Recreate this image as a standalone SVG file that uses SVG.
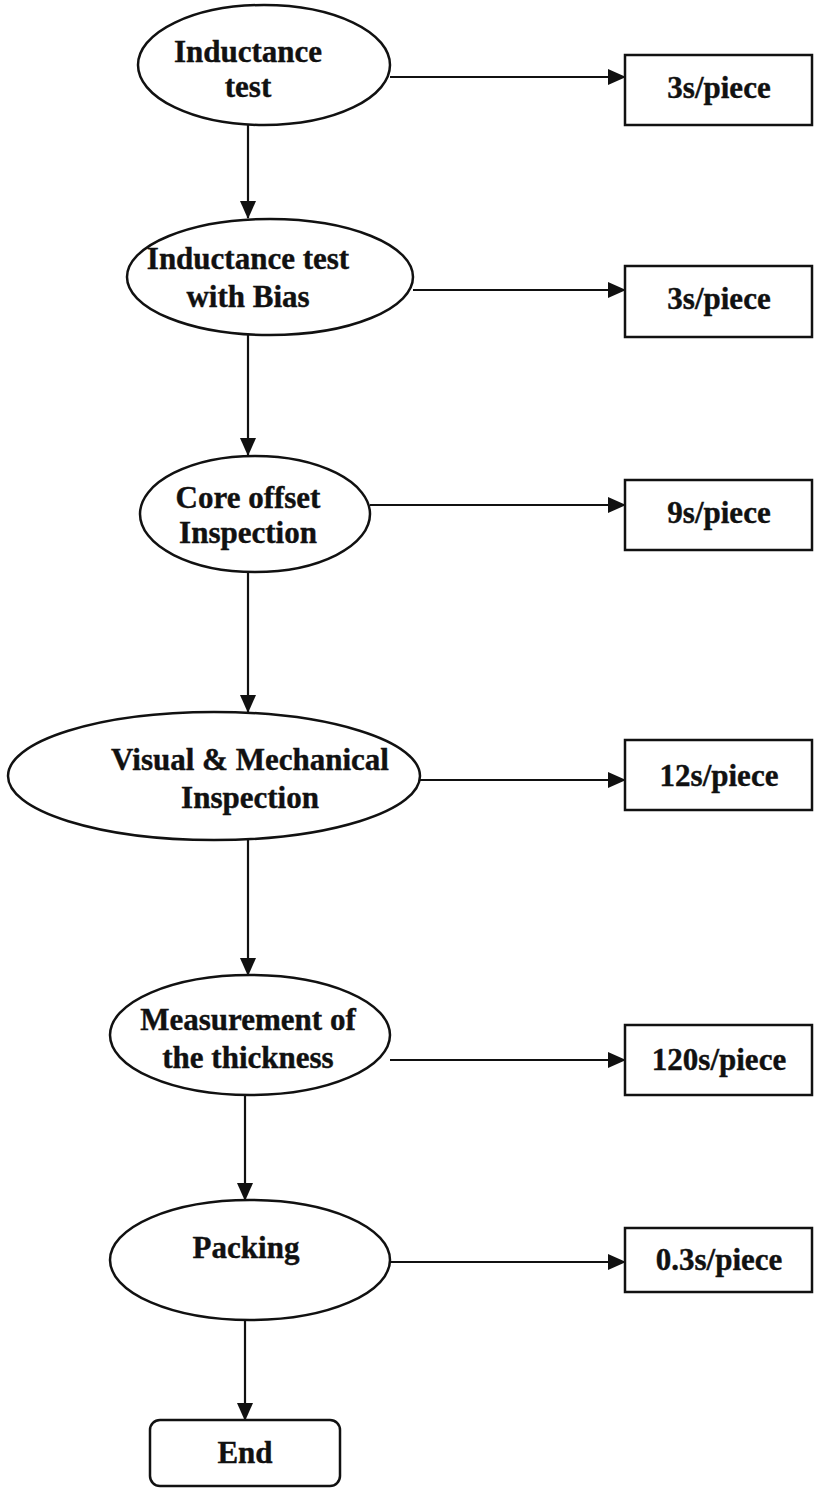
<svg xmlns="http://www.w3.org/2000/svg" width="815" height="1490" viewBox="0 0 815 1490">
<style>
.n{fill:#fff;stroke:#111;stroke-width:2.5}
.t{font-family:"Liberation Serif","Times New Roman",serif;font-weight:bold;font-size:31px;fill:#111;stroke:#111;stroke-width:0.4;text-anchor:middle}
.c{stroke:#111;stroke-width:2.2;fill:none;marker-end:url(#ah)}
</style>
<defs>
<marker id="ah" markerWidth="18" markerHeight="16" refX="17" refY="8" orient="auto" markerUnits="userSpaceOnUse">
<path d="M0,0 L18,8 L0,16 Z" fill="#111"/>
</marker>
</defs>
<rect width="815" height="1490" fill="#fff"/>
<g id="connectors">
<line class="c" x1="248" y1="125" x2="248" y2="218"/>
<line class="c" x1="248" y1="335" x2="248" y2="455"/>
<line class="c" x1="248" y1="572" x2="248" y2="712"/>
<line class="c" x1="248" y1="840" x2="248" y2="975"/>
<line class="c" x1="245" y1="1095" x2="245" y2="1200"/>
<line class="c" x1="245" y1="1320" x2="245" y2="1420"/>
<line class="c" x1="390" y1="77" x2="625" y2="77"/>
<line class="c" x1="413" y1="290" x2="625" y2="290"/>
<line class="c" x1="370" y1="505" x2="625" y2="505"/>
<line class="c" x1="420" y1="780" x2="625" y2="780"/>
<line class="c" x1="390" y1="1060" x2="625" y2="1060"/>
<line class="c" x1="390" y1="1262" x2="625" y2="1262"/>
</g>
<g id="n1">
<ellipse class="n" cx="264" cy="65" rx="126" ry="60"/>
<text class="t" x="248" y="62">Inductance</text>
<text class="t" x="248" y="97">test</text>
</g>
<g id="b1">
<rect class="n" x="625" y="55" width="187" height="70"/>
<text class="t" x="719" y="98">3s/piece</text>
</g>
<g id="n2">
<ellipse class="n" cx="270" cy="277" rx="143" ry="58"/>
<text class="t" x="248" y="269">Inductance test</text>
<text class="t" x="248" y="307">with Bias</text>
</g>
<g id="b2">
<rect class="n" x="625" y="266" width="187" height="71"/>
<text class="t" x="719" y="309">3s/piece</text>
</g>
<g id="n3">
<ellipse class="n" cx="255" cy="514" rx="115" ry="58"/>
<text class="t" x="248" y="508">Core offset</text>
<text class="t" x="248" y="543">Inspection</text>
</g>
<g id="b3">
<rect class="n" x="625" y="480" width="187" height="70"/>
<text class="t" x="719" y="523">9s/piece</text>
</g>
<g id="n4">
<ellipse class="n" cx="214" cy="776" rx="206" ry="64"/>
<text class="t" x="250" y="770">Visual &amp; Mechanical</text>
<text class="t" x="250" y="808">Inspection</text>
</g>
<g id="b4">
<rect class="n" x="625" y="740" width="187" height="70"/>
<text class="t" x="719" y="786">12s/piece</text>
</g>
<g id="n5">
<ellipse class="n" cx="250" cy="1035" rx="140" ry="60"/>
<text class="t" x="248" y="1030">Measurement of</text>
<text class="t" x="248" y="1068">the thickness</text>
</g>
<g id="b5">
<rect class="n" x="625" y="1025" width="187" height="70"/>
<text class="t" x="719" y="1070">120s/piece</text>
</g>
<g id="n6">
<ellipse class="n" cx="250" cy="1260" rx="140" ry="60"/>
<text class="t" x="246" y="1258">Packing</text>
</g>
<g id="b6">
<rect class="n" x="625" y="1228" width="187" height="64"/>
<text class="t" x="719" y="1270">0.3s/piece</text>
</g>
<g id="end">
<rect class="n" x="150" y="1420" width="190" height="66" rx="10"/>
<text class="t" x="245" y="1463">End</text>
</g>
</svg>
